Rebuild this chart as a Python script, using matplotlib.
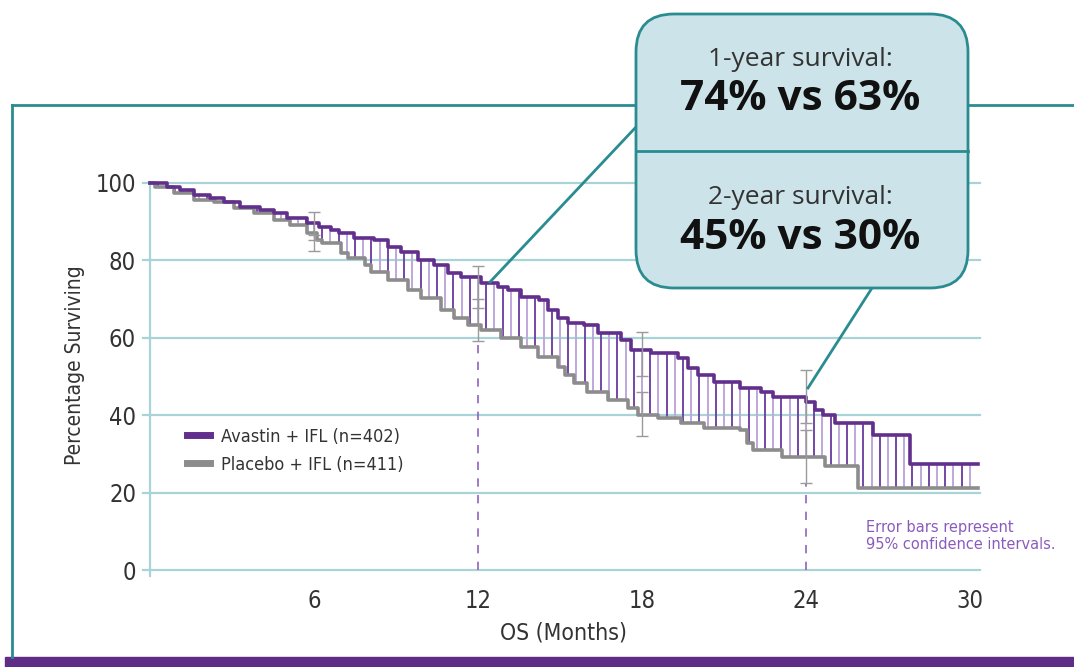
import numpy as np
import matplotlib
matplotlib.use("Agg")
import matplotlib.pyplot as plt
from matplotlib.patches import FancyBboxPatch, Rectangle
from matplotlib.lines import Line2D

plt.rcParams['font.family'] = ['DejaVu Sans']
plt.rcParams['font.stretch'] = 'condensed'

# Kaplan-Meier steps (months, % surviving)
avastin_t = [0, 0.62, 1.09, 1.61, 2.19, 2.70, 3.28, 4.01, 4.53, 5.0, 5.73, 6.2, 6.64, 6.9,
             7.48, 8.2, 8.72, 9.2, 9.82, 10.4, 10.91, 11.39, 12.12, 12.74, 13.1, 13.58,
             14.23, 14.56, 14.93, 15.29, 15.88, 16.39, 17.23, 17.59, 18.32, 19.31, 19.67,
             20.04, 20.62, 21.6, 22.34, 22.81, 24.01, 24.34, 24.64, 25.07, 26.46, 27.81, 30.3]
avastin_s = [100, 99, 98.2, 97, 96.1, 95.1, 93.8, 93, 92.2, 91, 89.6, 88.6, 87.8, 87.1,
             85.8, 85.3, 83.5, 82.2, 80.1, 78.8, 76.7, 75.7, 74.1, 73.1, 72.4, 70.6,
             69.8, 67.2, 65.1, 63.8, 63.3, 61.2, 59.4, 56.8, 56.1, 54.8, 52.2,
             50.4, 48.6, 47, 46, 44.8, 43.5, 41.3, 40, 38, 35, 27.5, 27.5]

placebo_t = [0, 0.18, 0.88, 1.61, 2.34, 3.07, 3.8, 4.53, 5.11, 5.73, 6.1, 6.28, 7.0, 7.26,
             7.85, 8.1, 8.72, 9.45, 9.93, 10.66, 11.13, 11.64, 12.12, 12.85, 13.58, 14.2,
             14.93, 15.2, 15.5, 16.0, 16.75, 17.48, 17.85, 18.58, 19.42, 20.26, 21.6, 21.86,
             22.08, 23.14, 24.7, 25.9, 30.3]
placebo_s = [100, 99, 97.4, 95.6, 95.1, 93.5, 92.2, 90.4, 89.1, 87.1, 85.3, 84.5, 82, 80.5,
             78.8, 77, 75, 72.4, 70.3, 67.2, 65.1, 63.3, 62, 60, 57.5, 55,
             52.5, 50.5, 48.3, 46, 43.9, 41.8, 40, 39.3, 38, 36.8, 36.2, 32.8,
             31, 29.2, 27, 21.3, 21.3]

# 95% CI error bars
ci_months = [6, 12, 18, 24]
avastin_lo = [85.3, 67.7, 50.1, 38.0]
avastin_hi = [92.5, 78.6, 61.5, 51.7]
placebo_lo = [82.4, 59.2, 34.6, 22.5]
placebo_hi = [86.6, 70.0, 46.0, 36.2]

yticks = [0, 20, 40, 60, 80, 100]
xticks = [6, 12, 18, 24, 30]

purple = '#62308c'
gray = '#8c8c8c'
teal = '#2a8c91'
grid_c = '#a9d3d6'

W, H = 1074, 667
fig = plt.figure(figsize=(W / 100, H / 100), dpi=100)
ax = fig.add_axes([150 / W, 1 - 570 / H, 830 / W, 387 / H])
ax.set_xlim(0, 30.37)
ax.set_ylim(0, 100)
for s in ax.spines.values():
    s.set_visible(False)

for y in yticks:
    ax.axhline(y, xmin=-0.009, xmax=1, color=grid_c, lw=1.6, clip_on=False, zorder=0)
ax.plot([0, 0], [-1.5, 100], color=grid_c, lw=1.6, clip_on=False, zorder=0)

# hatching between the curves
def step_at(t, s, x):
    i = np.searchsorted(t, x, side='right') - 1
    return np.array(s)[i]

hx = np.arange(0.3, 30.3, 0.3)
top = step_at(avastin_t, avastin_s, hx)
bot = step_at(placebo_t, placebo_s, hx)
cols = ['#7446a6' if i % 2 == 0 else '#bfa8da' for i in range(len(hx))]
ax.vlines(hx, bot, top, colors=cols, lw=1.4, zorder=2)

# dashed markers at 1 and 2 years
ax.vlines([12, 24], 0, [placebo_lo[1], placebo_lo[3]], colors='#8e62bf', lw=1.2,
          linestyles=(0, (5, 5)), zorder=1)

ax.step(placebo_t, placebo_s, where='post', color=gray, lw=2.6, zorder=3, clip_on=False)
ax.step(avastin_t, avastin_s, where='post', color=purple, lw=2.6, zorder=4, clip_on=False)

lo = np.array(avastin_lo + placebo_lo)
hi = np.array(avastin_hi + placebo_hi)
xs = ci_months + ci_months
ax.errorbar(xs, (lo + hi) / 2, yerr=(hi - lo) / 2, fmt='none', ecolor='#9a9a9a',
            elinewidth=1.0, capsize=4.5, capthick=1.0, zorder=5)

ax.set_yticks(yticks)
ax.set_yticklabels([str(v) for v in yticks], fontsize=17, color='#333333')
ax.set_xticks(xticks)
ax.set_xticklabels([str(v) for v in xticks], fontsize=17, color='#333333')
ax.tick_params(length=0)
ax.tick_params(axis='y', pad=10)
ax.tick_params(axis='x', pad=14)

fig.text(75 / W, 1 - 365 / H, 'Percentage Surviving', rotation=90, ha='center', va='center',
         fontsize=15, color='#333333')
fig.text(563 / W, 1 - 633 / H, 'OS (Months)', ha='center', va='center', fontsize=16.5,
         color='#333333')

handles = [Line2D([], [], color=purple, lw=5), Line2D([], [], color=gray, lw=5)]
ax.legend(handles, ['Avastin + IFL (n=402)', 'Placebo + IFL (n=411)'], loc='upper left',
          bbox_to_anchor=(0.025, 0.41), frameon=False, fontsize=13, handlelength=1.3,
          handletextpad=0.6, labelspacing=0.55, labelcolor='#333333')

fig.text(866 / W, 1 - 549 / H, 'Error bars represent\n95% confidence intervals.',
         ha='left', va='baseline', fontsize=11.7, color='#8a5bbd', linespacing=1.15)

# frame, bottom band and callout
tr = fig.dpi_scale_trans
def px(x, y):
    return x / 100, (H - y) / 100

fig.add_artist(Line2D([0.12, 6.36], [px(0, 105)[1]] * 2, color=teal, lw=2, transform=tr))
fig.add_artist(Line2D([9.68, W / 100], [px(0, 105)[1]] * 2, color=teal, lw=2, transform=tr))
fig.add_artist(Line2D([0.12, 0.12], [px(0, 105)[1], 0.1], color=teal, lw=2, transform=tr))
fig.add_artist(Rectangle((0.05, 0), W / 100, 0.10, color='#5f2c86', transform=tr))

x0, y0 = px(636, 288)
box = FancyBboxPatch((x0, y0), 3.32, 2.74, boxstyle='round,pad=0,rounding_size=0.38',
                     facecolor='#cce4e9', edgecolor=teal, lw=2, transform=tr, zorder=10)
fig.add_artist(box)
fig.add_artist(Line2D([6.36, 9.68], [px(0, 151)[1]] * 2, color=teal, lw=2, transform=tr,
                      zorder=11))
a, b = px(636, 127), px(490, 282)
fig.add_artist(Line2D([a[0], b[0]], [a[1], b[1]], color=teal, lw=2, transform=tr, zorder=9))
a, b = px(872, 288), px(808, 388)
fig.add_artist(Line2D([a[0], b[0]], [a[1], b[1]], color=teal, lw=2, transform=tr, zorder=9))

cf = ['Open Sans', 'DejaVu Sans']
for txt, y, size, weight in [('1-year survival:', 66, 19, 'normal'),
                             ('74% vs 63%', 110, 30.5, 'bold'),
                             ('2-year survival:', 204, 19, 'normal'),
                             ('45% vs 30%', 249, 30.5, 'bold')]:
    xx, yy = px(800, y)
    fig.text(xx, yy, txt, transform=tr, ha='center', va='baseline', fontsize=size,
             fontweight=weight, family=cf, fontstretch='normal',
             color='#111111' if weight == 'bold' else '#333333', zorder=12)

fig.savefig('out.png', dpi=100)
